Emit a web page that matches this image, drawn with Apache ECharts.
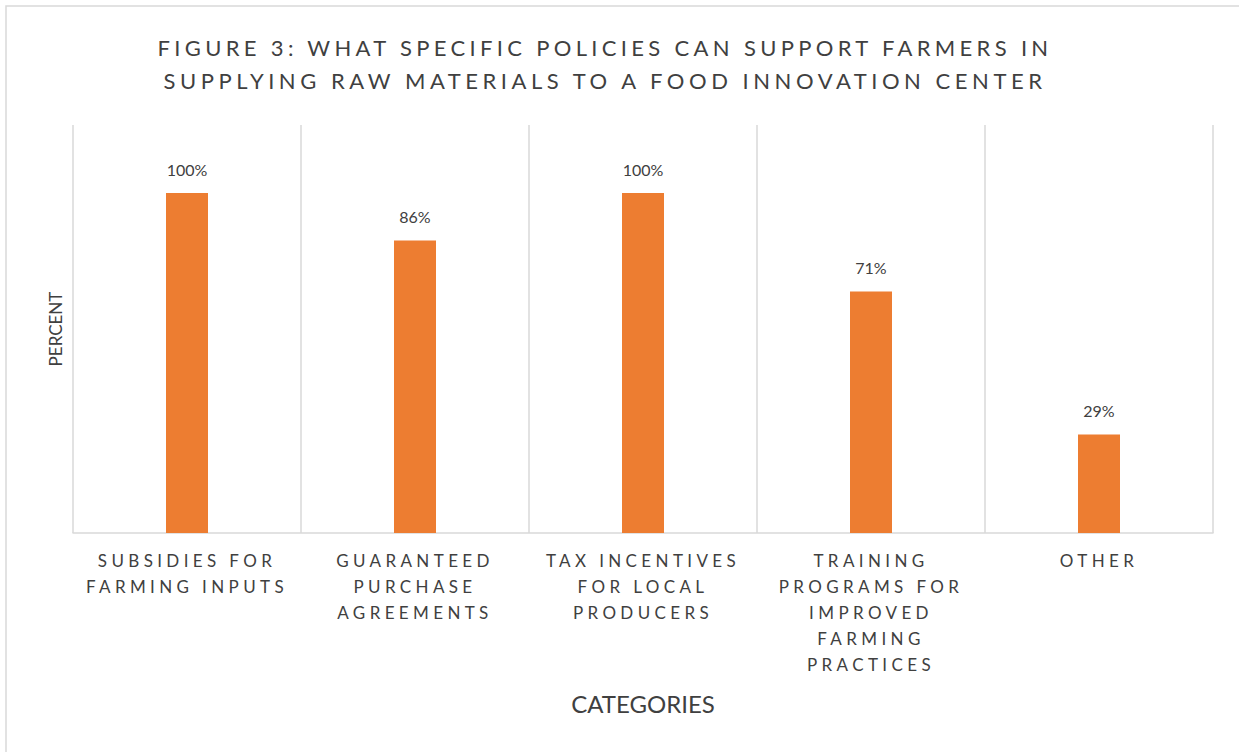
<!DOCTYPE html>
<html>
<head>
<meta charset="utf-8">
<script src="https://cdn.jsdelivr.net/npm/echarts@6/dist/echarts.min.js"></script>
<style>
  html, body { margin: 0; padding: 0; background: #fff; }
  #chart { width: 1239px; height: 752px; }
</style>
</head>
<body>
<div id="chart"></div>
<script>
// Survey results: policies that help farmers supply a food innovation center
const categories = [
  'SUBSIDIES FOR\nFARMING INPUTS',
  'GUARANTEED\nPURCHASE\nAGREEMENTS',
  'TAX INCENTIVES\nFOR LOCAL\nPRODUCERS',
  'TRAINING\nPROGRAMS FOR\nIMPROVED\nFARMING\nPRACTICES',
  'OTHER'
];
const percentValues = [100, 86, 100, 71, 29];
const titleLines = [
  'FIGURE 3: WHAT SPECIFIC POLICIES CAN SUPPORT FARMERS IN',
  'SUPPLYING RAW MATERIALS TO A FOOD INNOVATION CENTER'
];

const FONT = 'Lato';
const chart = echarts.init(document.getElementById('chart'), null, { renderer: 'svg' });

const option = {
  backgroundColor: '#ffffff',
  animation: false,
  title: {
    text: titleLines.join('\n'),
    left: 600,
    textAlign: 'center',
    top: 26,
    textStyle: {
      fontFamily: FONT,
      fontSize: 22,
      fontWeight: 'normal',
      color: '#404040',
      lineHeight: 33
    }
  },
  graphic: [{
    type: 'rect',
    shape: { x: 6, y: 6, width: 1260, height: 780 },
    style: { fill: 'none', stroke: '#d9d9d9', lineWidth: 1.5 },
    silent: true
  }],
  grid: { left: 73, right: 26, top: 125, bottom: 219 },
  xAxis: {
    type: 'category',
    data: categories,
    boundaryGap: true,
    axisLine: { show: true, lineStyle: { color: '#d9d9d9', width: 1.5 } },
    axisTick: { show: false },
    splitLine: { show: true, lineStyle: { color: '#d9d9d9', width: 1.5 } },
    axisLabel: {
      interval: 0,
      margin: 14,
      fontFamily: FONT,
      fontSize: 17,
      lineHeight: 26,
      color: '#404040'
    },
    name: 'CATEGORIES',
    nameLocation: 'middle',
    nameGap: 158,
    nameTextStyle: { fontFamily: FONT, fontSize: 24, color: '#404040' }
  },
  yAxis: {
    type: 'value',
    min: 0,
    max: 120,
    axisLine: { show: false },
    axisTick: { show: false },
    axisLabel: { show: false },
    splitLine: { show: false },
    name: 'PERCENT',
    nameLocation: 'middle',
    nameGap: 9,
    nameTextStyle: { fontFamily: FONT, fontSize: 17, color: '#404040' }
  },
  series: [{
    type: 'bar',
    data: percentValues,
    barWidth: 42,
    itemStyle: { color: '#ed7d31' },
    label: {
      show: true,
      position: 'top',
      distance: 16,
      formatter: '{c}%',
      fontFamily: FONT,
      fontSize: 16,
      color: '#404040'
    }
  }]
};

chart.setOption(option);

// Spaced capitals: stretch each title line to its span, and give the
// category labels a common tracking taken from one reference line.
const titleSpans = { [titleLines[0]]: 895, [titleLines[1]]: 883 };
const labelLines = new Set(categories.join('\n').split('\n'));
function applyTracking() {
  const texts = Array.from(document.querySelectorAll('#chart svg text'));
  let labelSpacing = 3.5;
  texts.forEach(function (t) {
    if (t.textContent.trim() === 'FARMING INPUTS') {
      t.style.letterSpacing = '0px';
      const w = t.getComputedTextLength();
      labelSpacing = (202 - w) / 14;
    }
  });
  texts.forEach(function (t) {
    const s = (t.textContent || '').trim();
    if (titleSpans[s]) {
      t.style.letterSpacing = '0px';
      const w = t.getComputedTextLength();
      t.style.letterSpacing = ((titleSpans[s] - w) / s.length) + 'px';
    } else if (labelLines.has(s)) {
      t.style.letterSpacing = labelSpacing + 'px';
    }
  });
}
applyTracking();
chart.on('finished', applyTracking);
</script>
</body>
</html>
